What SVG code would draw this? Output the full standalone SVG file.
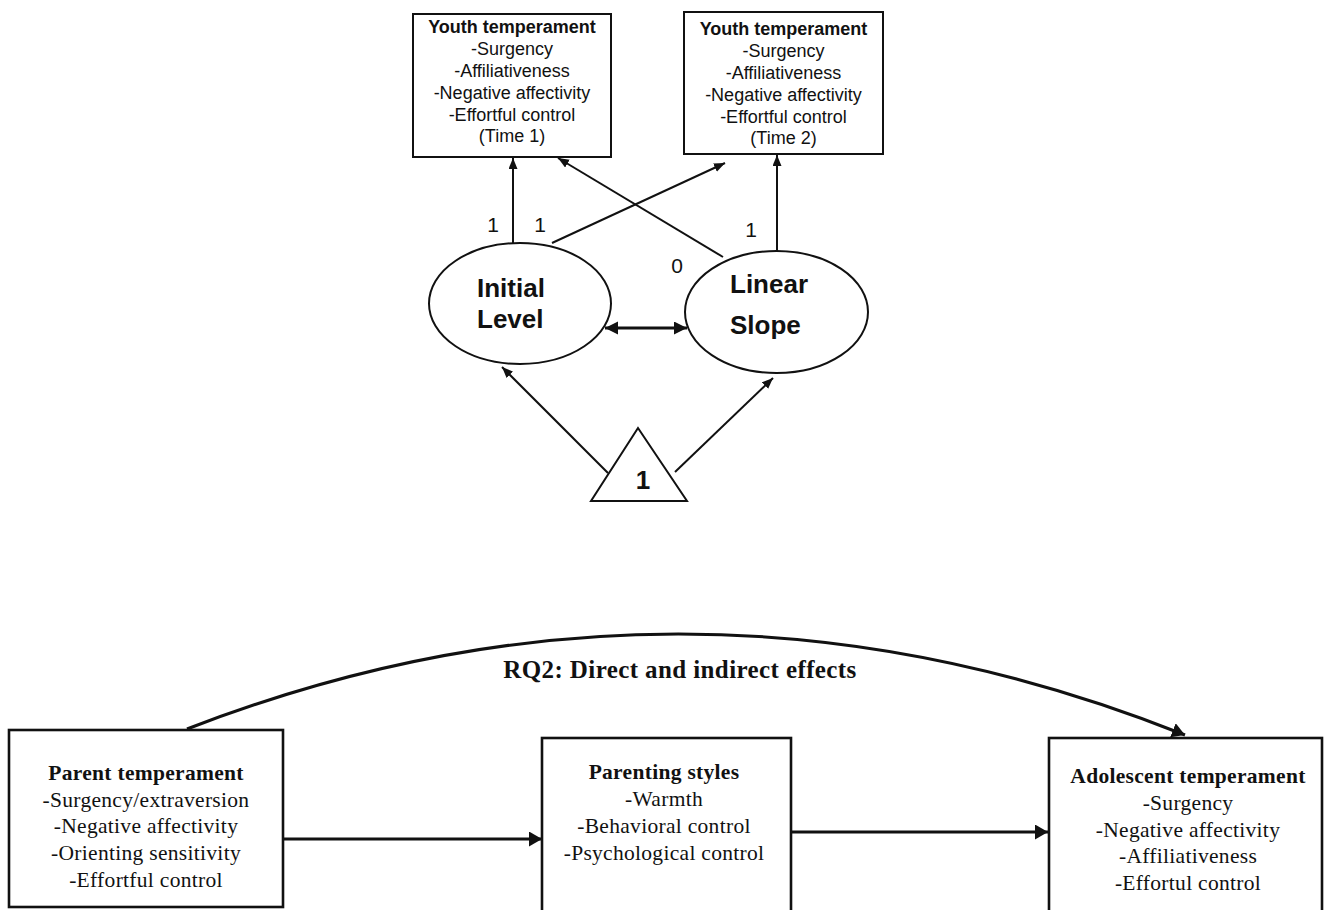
<svg xmlns="http://www.w3.org/2000/svg" width="1325" height="910" viewBox="0 0 1325 910">
<style>
.box{fill:#fff;stroke:#111;stroke-width:2}
.bbox{fill:#fff;stroke:#111;stroke-width:2.6}
.ell{fill:#fff;stroke:#111;stroke-width:2}
.ln{fill:none;stroke:#111;stroke-width:2}
.bln{fill:none;stroke:#111;stroke-width:3}
.sans{font-family:"Liberation Sans",Arial,sans-serif;fill:#111}
.serif{font-family:"Liberation Serif","Times New Roman",serif;fill:#111}
.t18{font-size:18px;text-anchor:middle}
.b26{font-size:26px;font-weight:bold}
.lab{font-size:21px;text-anchor:middle}
.s22{font-size:21.5px;text-anchor:middle;letter-spacing:0.3px}
</style>
<defs>
<marker id="arr" markerUnits="userSpaceOnUse" markerWidth="12" markerHeight="10" refX="11" refY="4.5" orient="auto"><path d="M0,0 L11,4.5 L0,9 z" fill="#111"/></marker>
<marker id="arrD" markerUnits="userSpaceOnUse" markerWidth="14" markerHeight="14" refX="13" refY="6.5" orient="auto-start-reverse"><path d="M0,0 L13,6.5 L0,13 z" fill="#111"/></marker>
<marker id="arrB" markerUnits="userSpaceOnUse" markerWidth="14" markerHeight="16" refX="13" refY="7.5" orient="auto"><path d="M0,0 L13,7.5 L0,15 z" fill="#111"/></marker>
</defs>

<g id="connectors">
<line class="ln" x1="513" y1="250" x2="513" y2="158" marker-end="url(#arr)"/>
<line class="ln" x1="552" y1="243" x2="725" y2="163" marker-end="url(#arr)"/>
<line class="ln" x1="723" y1="257" x2="558" y2="158" marker-end="url(#arr)"/>
<line class="ln" x1="777" y1="253" x2="777" y2="155" marker-end="url(#arr)"/>
<line class="bln" x1="605" y1="328" x2="687" y2="328" marker-start="url(#arrD)" marker-end="url(#arrD)"/>
<line class="ln" x1="608" y1="473" x2="502" y2="367" marker-end="url(#arr)"/>
<line class="ln" x1="675" y1="472" x2="773" y2="378" marker-end="url(#arr)"/>
<line class="bln" x1="283" y1="839" x2="542" y2="839" marker-end="url(#arrB)"/>
<line class="bln" x1="791" y1="832" x2="1048" y2="832" marker-end="url(#arrB)"/>
<path class="bln" d="M187,729 Q686,536 1185,735" marker-end="url(#arrB)"/>
</g>

<g id="label-1a"><text class="sans lab" x="493" y="232">1</text></g>
<g id="label-1b"><text class="sans lab" x="540" y="232">1</text></g>
<g id="label-1c"><text class="sans lab" x="751" y="237">1</text></g>
<g id="label-0"><text class="sans lab" x="677" y="273">0</text></g>

<g id="youth-t1">
<rect class="box" x="413" y="14" width="198" height="143"/>
<text class="sans t18" x="512" y="33" font-weight="bold">Youth temperament</text>
<text class="sans t18" x="512" y="55">-Surgency</text>
<text class="sans t18" x="512" y="77">-Affiliativeness</text>
<text class="sans t18" x="512" y="99">-Negative affectivity</text>
<text class="sans t18" x="512" y="121">-Effortful control</text>
<text class="sans t18" x="512" y="142">(Time 1)</text>
</g>

<g id="youth-t2">
<rect class="box" x="684" y="12" width="199" height="142"/>
<text class="sans t18" x="783.5" y="35" font-weight="bold">Youth temperament</text>
<text class="sans t18" x="783.5" y="57">-Surgency</text>
<text class="sans t18" x="783.5" y="79">-Affiliativeness</text>
<text class="sans t18" x="783.5" y="101">-Negative affectivity</text>
<text class="sans t18" x="783.5" y="123">-Effortful control</text>
<text class="sans t18" x="783.5" y="144">(Time 2)</text>
</g>

<g id="initial-level">
<ellipse class="ell" cx="520" cy="303.5" rx="91" ry="60.5"/>
<text class="sans b26" x="477" y="297">Initial</text>
<text class="sans b26" x="477" y="328">Level</text>
</g>

<g id="linear-slope">
<ellipse class="ell" cx="776.5" cy="312" rx="91.5" ry="61"/>
<text class="sans b26" x="730" y="293">Linear</text>
<text class="sans b26" x="730" y="334">Slope</text>
</g>

<g id="constant">
<polygon class="box" points="638,428 591,501 687,501"/>
<text class="sans b26" x="643" y="489" text-anchor="middle">1</text>
</g>

<g id="rq2-label">
<text class="serif" x="680" y="678" font-size="25" font-weight="bold" text-anchor="middle" letter-spacing="0.4">RQ2: Direct and indirect effects</text>
</g>

<g id="parent-temperament">
<rect class="bbox" x="9" y="730" width="274" height="177"/>
<text class="serif s22" x="146" y="780" font-weight="bold">Parent temperament</text>
<text class="serif s22" x="146" y="807">-Surgency/extraversion</text>
<text class="serif s22" x="146" y="833">-Negative affectivity</text>
<text class="serif s22" x="146" y="860">-Orienting sensitivity</text>
<text class="serif s22" x="146" y="887">-Effortful control</text>
</g>

<g id="parenting-styles">
<rect class="bbox" x="542" y="738" width="249" height="180"/>
<text class="serif s22" x="664" y="779" font-weight="bold">Parenting styles</text>
<text class="serif s22" x="664" y="806">-Warmth</text>
<text class="serif s22" x="664" y="833">-Behavioral control</text>
<text class="serif s22" x="664" y="860">-Psychological control</text>
</g>

<g id="adolescent-temperament">
<rect class="bbox" x="1049" y="738" width="273" height="180"/>
<text class="serif s22" x="1188" y="783" font-weight="bold">Adolescent temperament</text>
<text class="serif s22" x="1188" y="810">-Surgency</text>
<text class="serif s22" x="1188" y="837">-Negative affectivity</text>
<text class="serif s22" x="1188" y="863">-Affiliativeness</text>
<text class="serif s22" x="1188" y="890">-Effortul control</text>
</g>
</svg>
